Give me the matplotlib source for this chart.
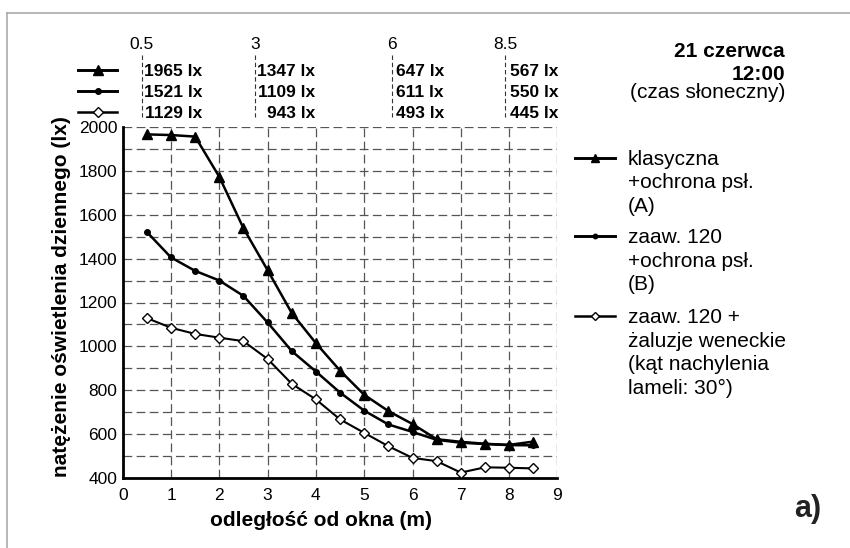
import numpy as np
import matplotlib.pyplot as plt
from matplotlib.lines import Line2D

plt.rcParams['font.family'] = ['Liberation Sans', 'DejaVu Sans']

# odległość od okna (m)
x = [0.5, 1, 1.5, 2, 2.5, 3, 3.5, 4, 4.5, 5, 5.5, 6, 6.5, 7, 7.5, 8, 8.5]
# natężenie oświetlenia (lx)
seria_a = [1965, 1962, 1955, 1772, 1538, 1347, 1152, 1015, 890, 780, 706, 647, 578, 566, 557, 552, 567]
seria_b = [1521, 1405, 1344, 1300, 1230, 1109, 979, 886, 790, 708, 645, 611, 575, 562, 556, 551, 550]
seria_c = [1129, 1085, 1057, 1040, 1024, 943, 830, 759, 668, 607, 546, 493, 478, 426, 450, 448, 445]

etykiety = ['klasyczna\n+ochrona psł.\n(A)',
            'zaaw. 120\n+ochrona psł.\n(B)',
            'zaaw. 120 +\nżaluzje weneckie\n(kąt nachylenia\nlameli: 30°)']
punkty_tabeli = [0.5, 3, 6, 8.5]

W, H = 850, 548


def fx(p):
    return p / W


def fy(p):
    return 1 - p / H


fig = plt.figure(figsize=(W / 100, H / 100), dpi=100)
ax = fig.add_axes([fx(122.7), fy(478.3), fx(557.4) - fx(122.7), fy(126.7) - fy(478.3)])

style = [
    dict(marker='^', ms=6.5, mfc='black', lw=1.8),
    dict(marker='o', ms=4, mfc='black', lw=1.8),
    dict(marker='D', ms=5.2, mfc='white', mew=1.0, lw=1.5),
]
serie = [seria_a, seria_b, seria_c]
for s, st in zip(serie, style):
    ax.plot(x, s, color='black', clip_on=False, zorder=3, **st)

ax.set_xlim(0, 9)
ax.set_ylim(400, 2000)
ax.set_xticks(range(0, 10))
ax.set_yticks(range(400, 2001, 200))
ax.set_yticks(range(500, 2000, 200), minor=True)
ax.grid(True, which='both', color='#555555', lw=0.9, linestyle=(0, (7, 3.5)))
ax.tick_params(which='both', length=0, labelsize=12.5)
ax.tick_params(axis='x', pad=7)
ax.tick_params(axis='y', pad=4)
for sp in ['top', 'right']:
    ax.spines[sp].set_visible(False)
for sp in ['left', 'bottom']:
    ax.spines[sp].set_linewidth(2.0)

fig.text(fx(321), fy(520), 'odległość od okna (m)', ha='center', va='center',
         fontsize=15, fontweight='bold')
fig.text(fx(62), fy(297), 'natężenie oświetlenia dziennego (lx)', ha='center', va='center',
         rotation=90, fontsize=15, fontweight='bold')

# ramka
fig.add_artist(Line2D([fx(6.5), fx(6.5)], [0, fy(12.5)], color='#aaaaaa', lw=1.2))
fig.add_artist(Line2D([fx(6.5), 1], [fy(12.5), fy(12.5)], color='#aaaaaa', lw=1.2))

# tabela u góry
kol_x = [141.7, 255, 391.7, 505]
kol_prawo = [202, 315, 444, 558]
wiersze = [76, 96.7, 118.3]
for i, st in enumerate(style):
    yy = fy(wiersze[i] - 6)
    fig.add_artist(Line2D([fx(78), fx(117)], [yy, yy], color='black', lw=st['lw'] + 0.3))
    fig.add_artist(Line2D([fx(97.5)], [yy], color='black', marker=st['marker'], ms=st['ms'],
                          mfc=st['mfc'], mec='black', mew=st.get('mew', 1.0), lw=0))
for xp, kx, kr in zip(punkty_tabeli, kol_x, kol_prawo):
    fig.text(fx(kx), fy(49.3), f'{xp:g}', ha='center', va='baseline', fontsize=12.5)
    fig.add_artist(Line2D([fx(kx), fx(kx)], [fy(55), fy(117)], color='#333333', lw=0.8,
                          linestyle=(0, (4, 2.5))))
    idx = x.index(xp)
    for s, wy in zip(serie, wiersze):
        fig.text(fx(kr), fy(wy), f'{s[idx]} lx', ha='right', va='baseline',
                 fontsize=12.5, fontweight='bold')

fig.text(fx(785), fy(56.7), '21 czerwca', ha='right', va='baseline', fontsize=15, fontweight='bold')
fig.text(fx(785), fy(80), '12:00', ha='right', va='baseline', fontsize=15, fontweight='bold')
fig.text(fx(785), fy(98.5), '(czas słoneczny)', ha='right', va='baseline', fontsize=15)

# legenda
start = [165, 243.3, 323.3]
for lab, st, y0 in zip(etykiety, style, start):
    yy = fy(y0 - 7)
    fig.add_artist(Line2D([fx(575), fx(615)], [yy, yy], color='black', lw=st['lw'] + 0.3))
    fig.add_artist(Line2D([fx(595)], [yy], color='black', marker=st['marker'],
                          ms=st['ms'] * 0.8, mfc=st['mfc'], mec='black',
                          mew=st.get('mew', 1.0), lw=0))
    for k, linia in enumerate(lab.split('\n')):
        fig.text(fx(628), fy(y0 + k * 23.4), linia, ha='left', va='baseline', fontsize=15)

fig.text(fx(808), fy(517), 'a)', ha='center', va='baseline', fontsize=22, fontweight='bold',
         fontstretch='condensed', color='#222222')

fig.savefig('out.png', dpi=100)
